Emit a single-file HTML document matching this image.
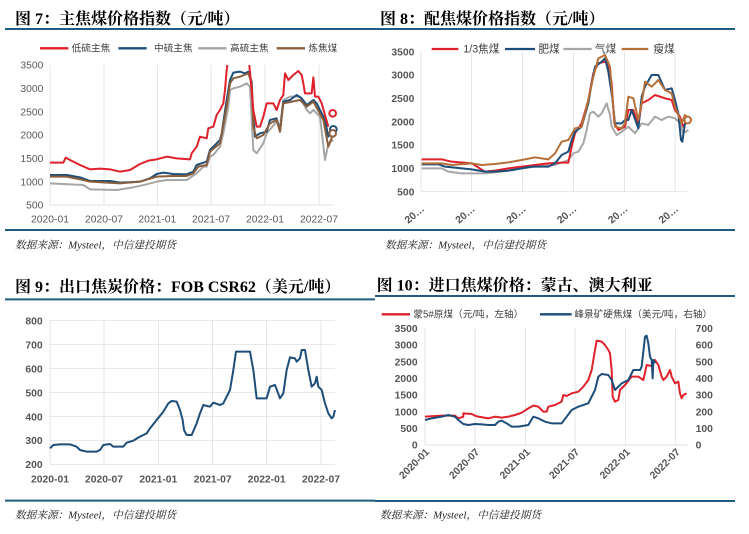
<!DOCTYPE html>
<html><head><meta charset="utf-8">
<style>
html,body{margin:0;padding:0;background:#fff;width:749px;height:534px;overflow:hidden}
svg{position:absolute;display:block}
.t{font-family:"Liberation Serif","Noto Serif CJK SC",serif;font-weight:bold;font-size:48px;fill:#000}
.a{font-family:"Liberation Sans","Noto Sans CJK SC",sans-serif;font-size:31px;fill:#595959}
.l{font-family:"Liberation Sans","Noto Sans CJK SC",sans-serif;font-size:29px;fill:#404040}
.s{font-family:"Liberation Serif","Noto Serif CJK SC",serif;font-style:italic;font-size:32px;fill:#222}
.g{stroke:#d9d9d9;stroke-width:2}
.p{fill:none;stroke-width:6;stroke-linejoin:round}
</style></head><body>

<svg style="left:0;top:0" width="375" height="260" viewBox="0 0 1125 780">
<text class="t" x="45" y="72">图 7：主焦煤价格指数（元/吨）</text>
<line x1="15" y1="87" x2="1125" y2="87" stroke="#1F5C84" stroke-width="6"/>
<g class="g"><line x1="150" y1="195" x2="150" y2="615"/><line x1="312" y1="195" x2="312" y2="615"/><line x1="472" y1="195" x2="472" y2="615"/><line x1="633" y1="195" x2="633" y2="615"/><line x1="795" y1="195" x2="795" y2="615"/><line x1="957" y1="195" x2="957" y2="615"/><line x1="150" y1="615" x2="1000" y2="615"/></g>
<g class="a" text-anchor="end"><text x="130" y="206">3500</text><text x="130" y="276">3000</text><text x="130" y="346">2500</text><text x="130" y="416">2000</text><text x="130" y="486">1500</text><text x="130" y="556">1000</text><text x="130" y="626">500</text></g>
<g class="a" text-anchor="middle"><text x="150" y="668">2020-01</text><text x="312" y="668">2020-07</text><text x="472" y="668">2021-01</text><text x="633" y="668">2021-07</text><text x="795" y="668">2022-01</text><text x="957" y="668">2022-07</text></g>
<line x1="120" y1="145" x2="205" y2="145" stroke="#E0212B" stroke-width="7"/><text class="l" x="215" y="155">低硫主焦</text>
<line x1="355" y1="145" x2="440" y2="145" stroke="#1D4E79" stroke-width="7"/><text class="l" x="462" y="155">中硫主焦</text>
<line x1="595" y1="145" x2="680" y2="145" stroke="#A6A6A6" stroke-width="7"/><text class="l" x="690" y="155">高硫主焦</text>
<line x1="830" y1="145" x2="915" y2="145" stroke="#8B5E3C" stroke-width="7"/><text class="l" x="925" y="155">炼焦煤</text>
<polyline class="p" stroke="#A6A6A6" points="150,550 250,555 270,568 350,570 400,562 440,553 470,545 500,540 560,540 590,520 610,500 620,500 630,470 640,465 660,440 670,400 685,320 690,270 700,265 720,260 740,250 750,260 760,450 770,460 790,430 800,400 830,365 840,380 850,300 870,290 900,290 920,330 930,340 940,330 960,350 975,480 985,430 1000,420"/>
<polyline class="p" stroke="#1D4E79" points="150,525 200,525 240,532 270,543 330,543 360,548 420,545 450,535 470,522 490,518 520,522 560,523 580,515 590,495 610,488 620,485 630,450 650,430 660,420 665,400 680,300 690,240 700,218 720,215 735,220 745,215 755,245 760,350 765,410 780,400 800,395 810,360 830,355 840,395 850,305 870,300 890,285 905,295 920,315 940,300 950,310 960,330 975,360 985,410 992,395 1000,385"/>
<polyline class="p" stroke="#8B5E3C" points="150,530 200,530 240,538 270,545 360,550 420,545 470,530 520,528 560,528 580,520 595,500 620,495 630,455 660,430 680,320 690,250 700,235 720,230 745,220 755,250 760,380 770,415 790,405 810,370 830,360 840,395 850,310 900,300 920,320 940,305 970,360 985,440 1000,400"/>
<polyline class="p" stroke="#E0212B" points="150,488 190,488 197,473 210,480 240,495 270,508 300,506 330,508 360,515 390,510 420,492 445,482 470,478 500,470 530,475 570,478 575,460 590,440 600,410 620,415 625,385 640,380 650,345 660,330 670,310 675,270 680,210 682,195"/>
<polyline class="p" stroke="#E0212B" points="748,195 752,240 760,330 770,380 780,380 790,350 800,310 820,310 830,330 840,300 850,285 855,220 865,240 880,225 895,213 905,225 910,250 915,280 935,280 940,232 945,290 955,290 965,310 975,345 985,380"/>
<circle cx="998" cy="340" r="10" fill="#fff" stroke="#E0212B" stroke-width="6"/>
<circle cx="1000" cy="388" r="10" fill="#fff" stroke="#1D4E79" stroke-width="6"/>
<circle cx="998" cy="400" r="10" fill="#fff" stroke="#8B5E3C" stroke-width="6"/>
<line x1="15" y1="690" x2="1125" y2="690" stroke="#1F5C84" stroke-width="6"/>
<text class="s" x="45" y="745">数据来源：Mysteel，中信建投期货</text>
</svg>

<svg style="left:375px;top:0" width="374" height="260" viewBox="0 0 1122 780">
<text class="t" x="15" y="72">图 8：配焦煤价格指数（元/吨）</text>
<line x1="0" y1="87" x2="1080" y2="87" stroke="#1F5C84" stroke-width="6"/>
<g class="g"><line x1="138" y1="155" x2="138" y2="575"/><line x1="290" y1="155" x2="290" y2="575"/><line x1="443" y1="155" x2="443" y2="575"/><line x1="595" y1="155" x2="595" y2="575"/><line x1="748" y1="155" x2="748" y2="575"/><line x1="900" y1="155" x2="900" y2="575"/><line x1="138" y1="575" x2="937" y2="575"/></g>
<g class="a" text-anchor="end" style="font-weight:bold;fill:#555"><text x="118" y="166">3500</text><text x="118" y="236">3000</text><text x="118" y="306">2500</text><text x="118" y="376">2000</text><text x="118" y="446">1500</text><text x="118" y="516">1000</text><text x="118" y="586">500</text></g>
<g class="a" text-anchor="end" style="font-weight:bold;fill:#555">
<text transform="translate(150,630) rotate(-40)">20…</text><text transform="translate(302,630) rotate(-40)">20…</text><text transform="translate(455,630) rotate(-40)">20…</text><text transform="translate(607,630) rotate(-40)">20…</text><text transform="translate(760,630) rotate(-40)">20…</text><text transform="translate(912,630) rotate(-40)">20…</text></g>
<line x1="170" y1="147" x2="250" y2="147" stroke="#E0212B" stroke-width="7"/><text class="l" x="265" y="157" style="font-size:32px">1/3焦煤</text>
<line x1="390" y1="147" x2="480" y2="147" stroke="#1D4E79" stroke-width="7"/><text class="l" x="490" y="157" style="font-size:32px">肥煤</text>
<line x1="565" y1="147" x2="650" y2="147" stroke="#A6A6A6" stroke-width="7"/><text class="l" x="660" y="157" style="font-size:32px">气煤</text>
<line x1="740" y1="147" x2="820" y2="147" stroke="#B5703A" stroke-width="7"/><text class="l" x="835" y="157" style="font-size:32px">瘦煤</text>
<polyline class="p" stroke="#A6A6A6" points="140,505 200,505 220,515 260,520 330,520 360,517 400,512 440,505 480,500 540,495 580,480 595,460 610,455 625,430 635,390 645,340 655,335 670,350 680,340 695,310 705,345 710,380 725,405 740,395 760,380 780,400 800,370 820,375 840,350 860,360 880,350 900,355 915,370 925,400 940,390"/>
<polyline class="p" stroke="#E0212B" points="140,478 200,478 230,485 290,490 330,515 360,512 400,505 440,500 480,495 520,490 560,488 580,488 590,440 600,400 620,370 640,300 655,220 670,190 690,185 700,190 710,250 718,370 730,390 750,380 760,330 775,330 790,375 800,310 820,300 840,285 870,295 890,300 900,330 915,350 925,380 935,365"/>
<polyline class="p" stroke="#1D4E79" points="140,493 190,493 210,500 290,508 330,515 360,515 400,512 440,505 470,500 520,500 540,490 560,465 580,455 590,420 600,395 620,380 640,310 650,250 660,200 680,185 690,175 700,215 712,295 720,370 740,370 750,360 760,360 770,330 790,385 800,290 810,260 830,225 850,225 870,270 890,265 900,300 910,340 918,420 922,425 930,370 940,360"/>
<polyline class="p" stroke="#B5703A" points="140,490 200,490 230,495 290,490 320,495 360,492 400,487 440,480 480,472 520,478 540,460 560,425 580,420 600,385 620,380 640,300 655,230 670,175 690,165 705,200 712,290 720,380 740,385 750,370 760,290 775,295 790,360 800,310 810,245 830,260 850,240 870,270 890,280 900,320 920,370 930,345 940,355"/>
<circle cx="938" cy="360" r="10" fill="#fff" stroke="#B5703A" stroke-width="6"/>
<line x1="0" y1="690" x2="1080" y2="690" stroke="#1F5C84" stroke-width="6"/>
<text class="s" x="30" y="745">数据来源：Mysteel，中信建投期货</text>
</svg>

<svg style="left:0;top:270px" width="375" height="264" viewBox="0 0 1125 792">
<text class="t" x="45" y="66">图 9：出口焦炭价格：FOB CSR62（美元/吨）</text>
<line x1="15" y1="88" x2="1125" y2="88" stroke="#1F5C84" stroke-width="6"/>
<g class="g"><line x1="150" y1="152" x2="1005" y2="152"/><line x1="150" y1="224" x2="1005" y2="224"/><line x1="150" y1="296" x2="1005" y2="296"/><line x1="150" y1="368" x2="1005" y2="368"/><line x1="150" y1="440" x2="1005" y2="440"/><line x1="150" y1="511" x2="1005" y2="511"/><line x1="150" y1="583" x2="1005" y2="583"/>
<line x1="150" y1="152" x2="150" y2="583"/><line x1="312" y1="152" x2="312" y2="583"/><line x1="475" y1="152" x2="475" y2="583"/><line x1="638" y1="152" x2="638" y2="583"/><line x1="800" y1="152" x2="800" y2="583"/><line x1="963" y1="152" x2="963" y2="583"/></g>
<g class="a" text-anchor="end" style="font-weight:bold;fill:#555"><text x="128" y="163">800</text><text x="128" y="235">700</text><text x="128" y="307">600</text><text x="128" y="379">500</text><text x="128" y="451">400</text><text x="128" y="522">300</text><text x="128" y="594">200</text></g>
<g class="a" text-anchor="middle" style="font-weight:bold;fill:#555"><text x="150" y="637">2020-01</text><text x="312" y="637">2020-07</text><text x="475" y="637">2021-01</text><text x="638" y="637">2021-07</text><text x="800" y="637">2022-01</text><text x="963" y="637">2022-07</text></g>
<polyline class="p" stroke="#1D4E79" stroke-width="8" points="150,535 160,525 180,523 210,523 230,530 240,540 260,545 290,545 300,540 310,525 330,522 340,530 370,530 380,518 400,512 420,500 440,490 450,475 470,450 490,425 505,400 515,393 530,395 540,420 548,450 552,480 560,495 575,495 590,460 600,430 610,405 630,410 640,398 660,405 670,400 690,360 700,300 708,245 750,245 760,300 770,385 800,385 810,350 825,345 840,385 850,370 860,300 870,262 885,265 890,275 900,265 905,240 915,240 925,300 935,350 945,340 950,320 955,350 965,360 975,400 985,430 995,445 1000,440 1005,420"/>
<line x1="15" y1="692" x2="1125" y2="692" stroke="#1F5C84" stroke-width="6"/>
<text class="s" x="45" y="745">数据来源：Mysteel，中信建投期货</text>
</svg>

<svg style="left:375px;top:270px" width="374" height="264" viewBox="0 0 1122 792">
<text class="t" x="5" y="62">图 10：进口焦煤价格：蒙古、澳大利亚</text>
<line x1="0" y1="78" x2="1080" y2="78" stroke="#1F5C84" stroke-width="6"/>
<g class="g"><line x1="150" y1="175" x2="150" y2="525"/><line x1="300" y1="175" x2="300" y2="525"/><line x1="452" y1="175" x2="452" y2="525"/><line x1="600" y1="175" x2="600" y2="525"/><line x1="752" y1="175" x2="752" y2="525"/><line x1="902" y1="175" x2="902" y2="525"/><line x1="150" y1="525" x2="940" y2="525"/></g>
<g class="a" text-anchor="end" style="font-weight:bold;fill:#555"><text x="128" y="186">3500</text><text x="128" y="236">3000</text><text x="128" y="286">2500</text><text x="128" y="336">2000</text><text x="128" y="386">1500</text><text x="128" y="436">1000</text><text x="128" y="486">500</text><text x="128" y="536">0</text></g>
<g class="a" style="font-weight:bold;fill:#555"><text x="962" y="186">700</text><text x="962" y="236">600</text><text x="962" y="286">500</text><text x="962" y="336">400</text><text x="962" y="386">300</text><text x="962" y="436">200</text><text x="962" y="486">100</text><text x="962" y="536">0</text></g>
<g class="a" text-anchor="end" style="font-weight:bold;fill:#555"><text transform="translate(165,548) rotate(-45)">2020-01</text><text transform="translate(315,548) rotate(-45)">2020-07</text><text transform="translate(467,548) rotate(-45)">2021-01</text><text transform="translate(615,548) rotate(-45)">2021-07</text><text transform="translate(767,548) rotate(-45)">2022-01</text><text transform="translate(917,548) rotate(-45)">2022-07</text></g>
<line x1="20" y1="133" x2="105" y2="133" stroke="#E0212B" stroke-width="7"/><text class="l" x="115" y="143">蒙5#原煤（元/吨，左轴）</text>
<line x1="495" y1="133" x2="590" y2="133" stroke="#1D4E79" stroke-width="7"/><text class="l" x="598" y="143">峰景矿硬焦煤（美元/吨，右轴）</text>
<polyline class="p" stroke="#E0212B" points="150,440 200,437 240,437 250,445 265,440 265,430 290,432 300,437 310,440 340,445 360,440 380,443 400,440 420,435 440,428 460,415 475,407 490,410 505,425 515,425 520,410 540,405 560,395 565,375 575,378 590,370 610,365 625,350 640,330 650,300 660,240 665,212 680,215 690,225 700,240 705,250 710,300 713,380 720,395 730,390 735,360 750,345 770,320 790,320 805,330 815,285 830,288 840,270 850,285 860,320 865,330 875,320 885,300 890,320 900,340 910,335 915,370 920,385 925,375 935,370"/>
<polyline class="p" stroke="#1D4E79" points="150,450 170,445 200,440 220,435 240,440 250,450 265,462 280,465 300,462 320,463 340,465 360,465 370,455 380,452 395,460 410,470 430,470 460,465 475,440 490,445 500,450 510,455 530,460 560,460 575,440 590,420 610,410 640,400 660,360 670,320 680,312 700,315 710,330 720,360 740,340 760,330 775,300 795,300 800,290 810,200 815,197 820,220 825,260 830,270 833,325 835,270 840,280"/>
<line x1="0" y1="693" x2="1080" y2="693" stroke="#1F5C84" stroke-width="6"/>
<text class="s" x="15" y="745">数据来源：Mysteel，中信建投期货</text>
</svg>
</body></html>
